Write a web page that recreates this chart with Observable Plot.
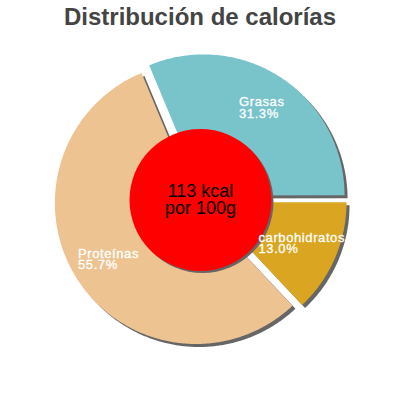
<!DOCTYPE html>
<html><head><meta charset="utf-8">
<script src="https://cdn.jsdelivr.net/npm/d3@7"></script>
<script src="https://cdn.jsdelivr.net/npm/@observablehq/plot@0.6"></script>
<style>
html,body{margin:0;padding:0;background:#fff;width:400px;height:400px;overflow:hidden}
#title{height:36px;font:bold 24px "Liberation Sans",Arial,sans-serif;color:#444;text-align:center;line-height:33px;white-space:nowrap}
#chart svg{display:block}
</style></head><body>
<div id="title"></div>
<div id="chart"></div>
<script>
const titleText = "Distribución de calorías";
const categories = ["Grasas", "carbohidratos", "Proteínas"];
const percents = [31.3, 13.0, 55.7];
const colors = ["#79C3CB", "#DAA520", "#EDC491"];
const centerLabel = ["113 kcal", "por 100g"];
const startAngle = -22.7; // degrees, clockwise from 12 o'clock

const W = 400, H = 364, R = 141, gap = 5.5, rLabel = 110, rCenter = 71, cy = 163.5;
const labelSize = 13, labelSpacing = 0.6;
const rad = d => d * Math.PI / 180;

document.getElementById("title").textContent = titleText;

let acc = startAngle;
const slices = categories.map((c, i) => {
  const a0 = acc, a1 = acc + percents[i] * 3.6; acc = a1;
  return {key: c, a0, a1, mid: (a0 + a1) / 2, color: colors[i], pct: percents[i]};
});

const pts = [];
for (const s of slices) {
  const ox = gap * Math.sin(rad(s.mid)), oy = gap * Math.cos(rad(s.mid));
  pts.push({key: s.key, color: s.color, x: ox, y: oy});
  const n = Math.ceil((s.a1 - s.a0) / 0.5);
  for (let k = 0; k <= n; k++) {
    const a = rad(s.a0 + (s.a1 - s.a0) * k / n);
    pts.push({key: s.key, color: s.color, x: ox + R * Math.sin(a), y: oy + R * Math.cos(a)});
  }
  pts.push({key: s.key, color: s.color, x: ox, y: oy});
}

const ctx = document.createElement("canvas").getContext("2d");
ctx.font = labelSize + "px 'Liberation Sans'";
const labels = slices.map(s => {
  const lines = [s.key, s.pct.toFixed(1) + "%"];
  const w = Math.max(...lines.map(l => ctx.measureText(l).width + labelSpacing * (l.length - 1)));
  return {x: rLabel * Math.sin(rad(s.mid)) - w / 2, y: rLabel * Math.cos(rad(s.mid)), text: lines.join("\n")};
});

const chart = Plot.plot({
  width: W, height: H, margin: 0,
  x: {domain: [-W / 2, W / 2], axis: null},
  y: {domain: [cy - H, cy], axis: null},
  color: {type: "identity"},
  marks: [
    Plot.line(pts, {x: "x", y: "y", z: "key", fill: "#666", stroke: "none", dx: 3, dy: 3}),
    Plot.line(pts, {x: "x", y: "y", z: "key", fill: "color", stroke: "none"}),
    Plot.dot([{x: 0, y: 0}], {x: "x", y: "y", r: rCenter, fill: "#666", stroke: "none", dx: 2, dy: 2}),
    Plot.dot([{x: 0, y: 0}], {x: "x", y: "y", r: rCenter, fill: "#FF0000", stroke: "none"}),
    Plot.text(labels, {x: "x", y: "y", text: "text", textAnchor: "start", lineAnchor: "middle", fill: "white", stroke: "white", strokeWidth: 0.3, fontSize: labelSize, lineHeight: 0.9, fontFamily: "Liberation Sans", style: {letterSpacing: labelSpacing + "px"}}),
    Plot.text([{x: 0, y: 0, text: centerLabel.join("\n")}], {x: "x", y: "y", text: "text", lineAnchor: "middle", fill: "black", fontSize: 18, lineHeight: 0.95, fontFamily: "Liberation Sans"})
  ]
});
chart.querySelectorAll("text").forEach(t => { if (t.getAttribute("font-size") == String(labelSize) || t.closest("g")?.getAttribute("font-size") == String(labelSize)) t.style.letterSpacing = labelSpacing + "px"; });
document.getElementById("chart").appendChild(chart);
</script>
</body></html>
